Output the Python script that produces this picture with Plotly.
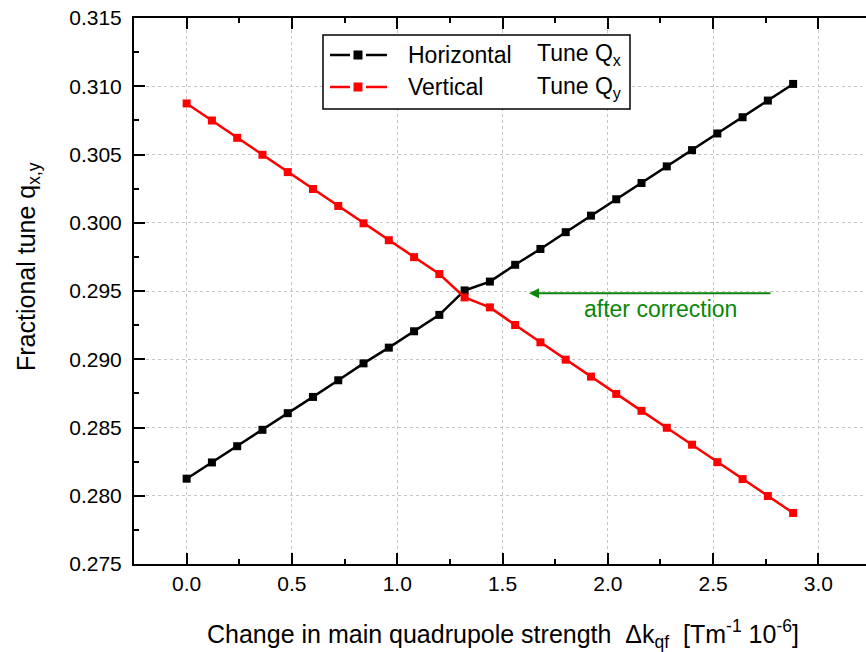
import plotly.graph_objects as go

# Quadrupole strength change (Tm^-1 1e-6), 25 settings in steps of 0.12
dk_qf = [round(0.12 * i, 2) for i in range(25)]

# Fractional tunes read at each setting
q_horizontal = [0.28125, 0.28244, 0.28363, 0.28483, 0.28605, 0.28724, 0.28846,
                0.28970, 0.29085, 0.29205, 0.29325, 0.29504, 0.29569, 0.29692,
                0.29808, 0.29931, 0.30052, 0.30172, 0.30291, 0.30413, 0.30532,
                0.30654, 0.30773, 0.30895, 0.31017]
q_vertical = [0.30874, 0.30749, 0.30622, 0.30498, 0.30371, 0.30247, 0.30123,
              0.29996, 0.29872, 0.29748, 0.29624, 0.29453, 0.29380, 0.29251,
              0.29124, 0.28997, 0.28873, 0.28746, 0.28622, 0.28498, 0.28374,
              0.28246, 0.28122, 0.27998, 0.27874]

series_names = ["Horizontal", "Vertical"]
series_tunes = ["Tune Q<sub>x</sub>", "Tune Q<sub>y</sub>"]
series_colors = ["#000000", "#ff0000"]

x_ticks = [0.0, 0.5, 1.0, 1.5, 2.0, 2.5, 3.0]
y_ticks = [0.275, 0.280, 0.285, 0.290, 0.295, 0.300, 0.305, 0.310, 0.315]

W, H = 866, 652
L, R, T, B = 134, 866, 18, 564   # plot-area pixel box
FONT = "Liberation Sans, Arial, Helvetica, sans-serif"


def px(xp):
    return (xp - L) / (R - L)


def py(yp):
    return (B - yp) / (B - T)


fig = go.Figure()
for ys, color in zip([q_horizontal, q_vertical], series_colors):
    fig.add_trace(go.Scatter(
        x=dk_qf, y=ys, mode="lines+markers",
        line=dict(color=color, width=2.5),
        marker=dict(symbol="square", size=8, color=color),
        showlegend=False, hoverinfo="skip",
    ))

shapes = []
annotations = []

# legend box
shapes.append(dict(type="rect", xref="paper", yref="paper",
                   x0=px(323), x1=px(630), y0=py(109), y1=py(35),
                   line=dict(color="#000000", width=1.5),
                   fillcolor="white", layer="above"))
rows_y = [55, 87]
for name, tune, color, ry in zip(series_names, series_tunes, series_colors, rows_y):
    shapes.append(dict(type="line", xref="paper", yref="paper",
                       x0=px(330), x1=px(350), y0=py(ry), y1=py(ry),
                       line=dict(color=color, width=2.5), layer="above"))
    shapes.append(dict(type="line", xref="paper", yref="paper",
                       x0=px(366), x1=px(387), y0=py(ry), y1=py(ry),
                       line=dict(color=color, width=2.5), layer="above"))
    shapes.append(dict(type="rect", xref="paper", yref="paper",
                       x0=px(353.5), x1=px(362.5), y0=py(ry + 4.5), y1=py(ry - 4.5),
                       line=dict(width=0), fillcolor=color, layer="above"))
    annotations.append(dict(text=name, xref="paper", yref="paper",
                            x=px(406), y=py(ry), xanchor="left", yanchor="middle",
                            showarrow=False, font=dict(family=FONT, size=23, color="black")))
    annotations.append(dict(text=tune, xref="paper", yref="paper",
                            x=px(535), y=py(ry), xanchor="left", yanchor="middle",
                            showarrow=False, font=dict(family=FONT, size=23, color="black")))

# correction arrow and label
annotations.append(dict(x=px(529), y=py(293.3), ax=px(772), ay=py(293.3),
                        xref="x domain", yref="y domain",
                        axref="x domain", ayref="y domain",
                        text="", showarrow=True, arrowhead=2, arrowsize=1,
                        arrowwidth=2, arrowcolor="#0a870a"))
annotations.append(dict(text="after correction", xref="paper", yref="paper",
                        x=px(660), y=py(309), xanchor="center", yanchor="middle",
                        showarrow=False, font=dict(family=FONT, size=23, color="#0a870a")))

# axis titles
annotations.append(dict(text="Fractional tune q<sub>x,y</sub>", xref="paper", yref="paper",
                        x=px(28), y=py(267), xanchor="center", yanchor="middle",
                        textangle=-90, showarrow=False,
                        font=dict(family=FONT, size=25, color="black")))
annotations.append(dict(text="Change in main quadrupole strength\u00a0\u00a0\u0394k<sub>qf</sub>"
                             "\u00a0\u00a0[Tm<sup>-1</sup> 10<sup>-6</sup>]",
                        xref="paper", yref="paper",
                        x=px(503), y=py(634), xanchor="center", yanchor="middle",
                        showarrow=False, font=dict(family=FONT, size=25, color="black")))

axis_common = dict(
    showline=True, linecolor="black", linewidth=2,
    ticks="inside", ticklen=11, tickwidth=2, tickcolor="black",
    showgrid=True, gridcolor="#c4c4c4", gridwidth=1, griddash="dot",
    zeroline=False,
    tickfont=dict(family=FONT, size=21, color="black"),
)

fig.update_layout(
    width=W, height=H,
    margin=dict(l=L, r=W - R, t=T, b=H - B),
    paper_bgcolor="white", plot_bgcolor="white",
    xaxis=dict(axis_common, range=[-0.25, 3.226], tickvals=x_ticks,
               tickformat=".1f", mirror="allticks",
               minor=dict(dtick=0.25, tick0=0, ticks="inside", ticklen=5,
                          tickwidth=2, tickcolor="black", showgrid=False)),
    yaxis=dict(axis_common, range=[0.275, 0.315], tickvals=y_ticks,
               tickformat=".3f", ticklabelstandoff=6,
               minor=dict(dtick=0.0025, tick0=0.275, ticks="inside", ticklen=5,
                          tickwidth=2, tickcolor="black", showgrid=False)),
    shapes=shapes,
    annotations=annotations,
    showlegend=False,
)

fig.write_html("out.html")
